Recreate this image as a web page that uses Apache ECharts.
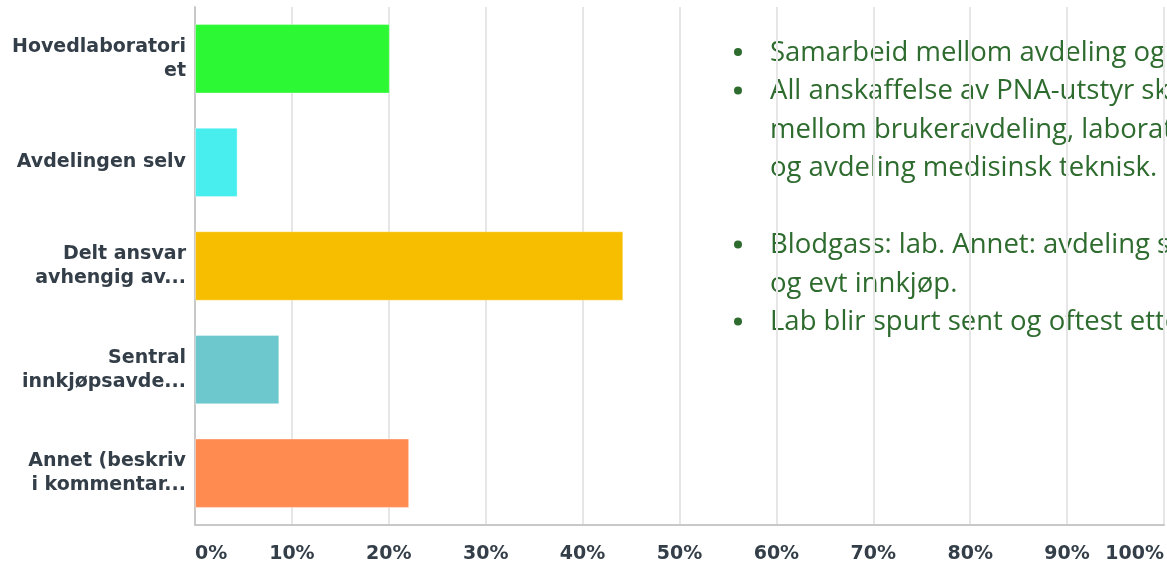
<!DOCTYPE html>
<html>
<head>
<meta charset="utf-8">
<script src="https://cdn.jsdelivr.net/npm/echarts@6/dist/echarts.min.js"></script>
<style>html,body{margin:0;padding:0;background:#fff}#c{width:1167px;height:564px}</style>
</head>
<body>
<div id="c"></div>
<script>
const categories = ["Hovedlaboratori\net", "Avdelingen selv", "Delt ansvar\navhengig av...", "Sentral\ninnkjøpsavde...", "Annet (beskriv\ni kommentar..."];
const values = [20.1, 4.4, 44.2, 8.7, 22.1];
const barColors = ["#2cf934", "#48eeee", "#f7be00", "#6cc8cc", "#ff8b51"];
const xTicks = { min: 0, max: 100, interval: 10 };
const noteLines = [
  { bullet: true, text: "Samarbeid mellom avdeling og laboratoriet." },
  { bullet: true, text: "All anskaffelse av PNA-utstyr skal skje i samarbeid" },
  { bullet: false, text: "mellom brukeravdeling, laboratoriet" },
  { bullet: false, text: "og avdeling medisinsk teknisk." },
  { bullet: false, text: "" },
  { bullet: true, text: "Blodgass: lab. Annet: avdeling selv, med rådgivning" },
  { bullet: false, text: "og evt innkjøp." },
  { bullet: true, text: "Lab blir spurt sent og oftest etter innkjøp." }
];

const chart = echarts.init(document.getElementById('c'), null, { renderer: 'canvas' });
const labelFont = 'DejaVu Sans';
const noteFont = 'Open Sans';
const noteColor = '#2e6b2e';
const noteTop = 53;      // centre of first line
const noteStep = 38.5;

const graphics = [];
noteLines.forEach((l, i) => {
  const y = noteTop + i * noteStep;
  if (l.bullet) {
    graphics.push({ type: 'circle', silent: true, shape: { cx: 738, cy: y - 1, r: 4 },
      style: { fill: noteColor } });
  }
  if (l.text) {
    graphics.push({ type: 'text', x: 770, y: y, silent: true,
      style: { text: l.text, font: '27.5px ' + noteFont, fill: noteColor, verticalAlign: 'middle' } });
  }
});

chart.setOption({
  animation: false,
  grid: { left: 195, right: 0, top: 7, bottom: 38, containLabel: false },
  xAxis: {
    type: 'value', min: xTicks.min, max: xTicks.max, interval: xTicks.interval,
    axisLine: { show: true, lineStyle: { color: '#c8c8c8', width: 2 } },
    axisTick: { show: false },
    splitLine: { show: true, lineStyle: { color: '#e6e6e6', width: 2 } },
    axisLabel: {
      formatter: '{value}%', margin: 20, color: '#333e48',
      fontFamily: labelFont, fontWeight: 'bold', fontSize: 19,
      alignMinLabel: 'left', alignMaxLabel: 'right'
    }
  },
  yAxis: {
    type: 'category', data: categories, inverse: true,
    axisLine: { show: true, lineStyle: { color: '#c8c8c8', width: 2 } },
    axisTick: { show: false },
    axisLabel: {
      margin: 9, color: '#333e48', fontFamily: labelFont, fontWeight: 'bold',
      fontSize: 19, lineHeight: 24, align: 'right'
    }
  },
  series: [{
    type: 'bar', barWidth: '67%',
    data: values.map((v, i) => ({ value: v, itemStyle: { color: barColors[i] } })),
    itemStyle: { borderColor: 'rgba(255,255,255,0.35)', borderWidth: 1 }
  }],
  graphic: graphics
});
</script>
</body>
</html>
